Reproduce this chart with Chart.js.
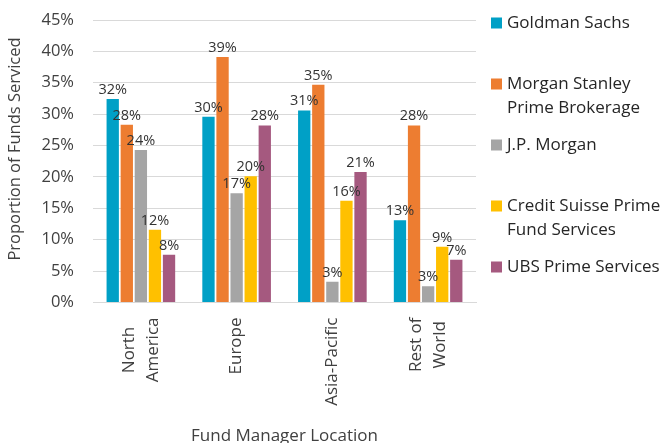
<!DOCTYPE html>
<html>
<head>
<meta charset="utf-8">
<style>
  html, body { margin: 0; padding: 0; background: #ffffff; }
  #wrap { width: 664px; height: 443px; position: relative; }
</style>
<script src="https://cdn.jsdelivr.net/npm/chart.js@4/dist/chart.umd.min.js"></script>
</head>
<body>
<div id="wrap"><canvas id="c" width="664" height="443"></canvas></div>
<script>
const categories = [['North', 'America'], ['Europe'], ['Asia-Pacific'], ['Rest of', 'World']];
const seriesNames = [
  ['Goldman Sachs'],
  ['Morgan Stanley', 'Prime Brokerage'],
  ['J.P. Morgan'],
  ['Credit Suisse Prime', 'Fund Services'],
  ['UBS Prime Services']
];
const goldmanSachs   = [32.4, 29.6, 30.6, 13.1];
const morganStanley  = [28.3, 39.1, 34.7, 28.2];
const jpMorgan       = [24.3, 17.4, 3.3, 2.6];
const creditSuisse   = [11.6, 20.1, 16.2, 8.9];
const ubs            = [7.6, 28.2, 20.8, 6.8];
const seriesColors = ['#00A0C6', '#ED7D31', '#A5A5A5', '#FFC000', '#A5597F'];
const yTicks = [0, 5, 10, 15, 20, 25, 30, 35, 40, 45];
const yTitle = 'Proportion of Funds Serviced';
const xTitle = 'Fund Manager Location';

const seriesValues = [goldmanSachs, morganStanley, jpMorgan, creditSuisse, ubs];
const FONT = "'Open Sans', 'DejaVu Sans', sans-serif";
const TEXT = '#404040';

const dataLabelPlugin = {
  id: 'dataLabels',
  afterDatasetsDraw(chart) {
    const ctx = chart.ctx;
    ctx.save();
    ctx.font = '14.5px ' + FONT;
    ctx.fillStyle = '#333333';
    ctx.textAlign = 'center';
    ctx.textBaseline = 'alphabetic';
    chart.data.datasets.forEach((ds, di) => {
      const meta = chart.getDatasetMeta(di);
      meta.data.forEach((bar, i) => {
        const v = ds.data[i];
        ctx.fillText(Math.round(v) + '%', bar.x, bar.y - 5);
      });
    });
    ctx.restore();
  }
};

const textPlugin = {
  id: 'customText',
  afterDraw(chart) {
    const ctx = chart.ctx;
    // legend
    ctx.save();
    ctx.font = '17px ' + FONT;
    ctx.textAlign = 'left';
    ctx.textBaseline = 'middle';
    seriesNames.forEach((lines, i) => {
      const y0 = 23 + i * 61;
      ctx.fillStyle = seriesColors[i];
      ctx.fillRect(491, y0 - 5.5, 11, 11);
      ctx.fillStyle = '#262626';
      lines.forEach((t, k) => ctx.fillText(t, 507, y0 + k * 24));
    });
    ctx.restore();

    // y axis title
    ctx.save();
    ctx.fillStyle = TEXT;
    ctx.font = '16.5px ' + FONT;
    ctx.textAlign = 'center';
    ctx.textBaseline = 'middle';
    ctx.translate(15, 149);
    ctx.rotate(-Math.PI / 2);
    ctx.fillText(yTitle, 0, 0);
    ctx.restore();

    // x category labels (rotated, lines centred, block top-aligned)
    const xs = chart.scales.x;
    const top = chart.chartArea.bottom + 15;
    ctx.save();
    ctx.fillStyle = TEXT;
    ctx.font = '17px ' + FONT;
    ctx.textAlign = 'center';
    ctx.textBaseline = 'middle';
    categories.forEach((lines, i) => {
      const x = xs.getPixelForTick(i);
      const w = Math.max(...lines.map(t => ctx.measureText(t).width));
      ctx.save();
      ctx.translate(x, top + w / 2);
      ctx.rotate(-Math.PI / 2);
      lines.forEach((t, k) => {
        ctx.fillText(t, 0, (k - (lines.length - 1) / 2) * 24);
      });
      ctx.restore();
    });
    ctx.restore();
  }
};

new Chart(document.getElementById('c'), {
  type: 'bar',
  data: {
    labels: categories.map(l => l.join(' ')),
    datasets: seriesValues.map((vals, i) => ({
      label: seriesNames[i].join(' '),
      data: vals,
      backgroundColor: seriesColors[i],
      barPercentage: 0.875,
      categoryPercentage: 0.735
    }))
  },
  options: {
    responsive: false,
    animation: false,
    devicePixelRatio: 1,
    layout: { padding: { top: 20, right: 188, bottom: 0, left: 0 } },
    plugins: {
      legend: { display: false },
      tooltip: { enabled: false }
    },
    scales: {
      y: {
        min: 0,
        max: 45,
        afterBuildTicks(scale) { scale.ticks = yTicks.map(v => ({ value: v })); },
        afterFit(scale) { scale.width = 93; scale.paddingTop = 0; scale.paddingBottom = 0; },
        grid: { color: '#D9D9D9', drawTicks: false, lineWidth: 1 },
        border: { display: false },
        ticks: {
          padding: 19,
          color: TEXT,
          font: { family: FONT, size: 16.5 },
          callback: v => v + '%'
        },
        title: { display: false }
      },
      x: {
        afterFit(scale) { scale.height = 140.5; scale.paddingLeft = 0; scale.paddingRight = 0; },
        grid: { display: false, drawTicks: false },
        border: { display: true, color: '#D9D9D9', width: 1 },
        ticks: { display: false },
        title: {
          display: true,
          text: xTitle,
          color: TEXT,
          font: { family: FONT, size: 17, lineHeight: 0.75 },
          padding: { top: 0, bottom: 0 }
        }
      }
    }
  },
  plugins: [dataLabelPlugin, textPlugin]
});
</script>
</body>
</html>
